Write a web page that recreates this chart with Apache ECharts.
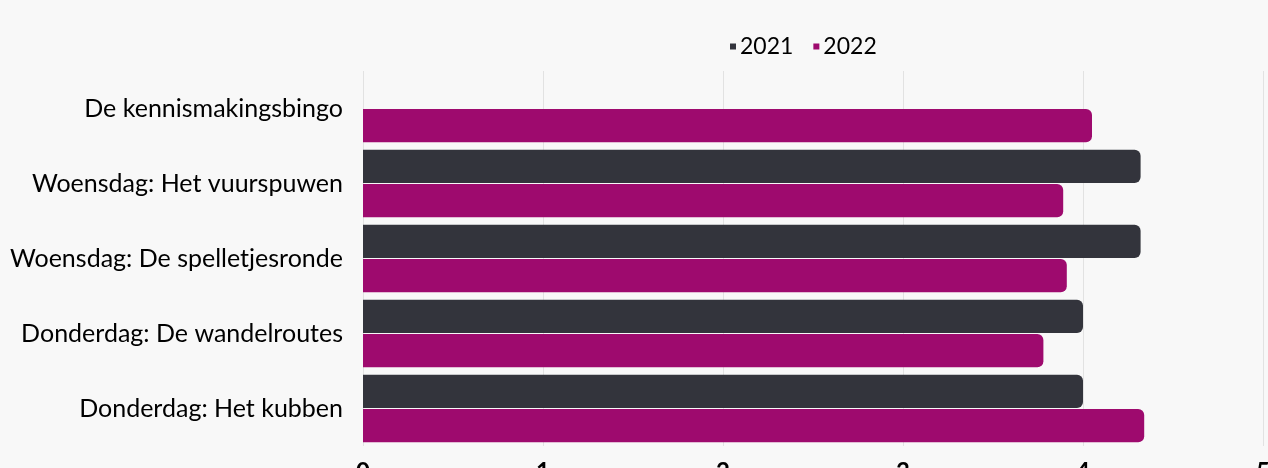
<!DOCTYPE html>
<html>
<head>
<meta charset="utf-8">
<style>
html,body{margin:0;padding:0;background:#f8f8f8;}
#c{width:1268px;height:468px;}
</style>
<script src="https://cdn.jsdelivr.net/npm/echarts@6/dist/echarts.min.js"></script>
</head>
<body>
<div id="c"></div>
<script>
const categories = ["De kennismakingsbingo","Woensdag: Het vuurspuwen","Woensdag: De spelletjesronde","Donderdag: De wandelroutes","Donderdag: Het kubben"];
const values2021 = [null, 4.32, 4.32, 4.0, 4.0];
const values2022 = [4.05, 3.89, 3.91, 3.78, 4.34];
const xTicks = [0, 1, 2, 3, 4, 5];

const FONT = "Lato";
const chart = echarts.init(document.getElementById('c'));
chart.setOption({
  backgroundColor: '#f8f8f8',
  textStyle: {fontFamily: FONT},
  animation: false,
  legend: {
    data: ['2021','2022'],
    top: 30,
    left: 725,
    itemWidth: 6, itemHeight: 6, itemGap: 20,
    icon: 'rect',
    textStyle: {fontSize: 23, color: '#000', fontFamily: FONT, padding: [0,0,0,-1]}
  },
  grid: {left: 363, right: 5, top: 71, bottom: 22, containLabel: false, outerBoundsMode: 'none'},
  xAxis: {
    type: 'value', min: 0, max: 5, interval: 1,
    axisLine: {show: false}, axisTick: {show: false},
    splitLine: {show: true, lineStyle: {color: '#e2e2e2', width: 1}},
    axisLabel: {fontSize: 24, fontWeight: 'bold', color: '#000', margin: 14,
      formatter: v => xTicks.includes(v) ? String(v) : ''}
  },
  yAxis: {
    type: 'category', data: categories, inverse: true,
    axisLine: {show: false}, axisTick: {show: false},
    axisLabel: {fontSize: 25, color: '#000', margin: 20}
  },
  series: [
    {name: '2021', type: 'bar', data: values2021, barGap: '3%', barCategoryGap: '10%',
     itemStyle: {color: '#33343c', borderRadius: [0,6,6,0]}},
    {name: '2022', type: 'bar', data: values2022, barGap: '3%', barCategoryGap: '10%',
     itemStyle: {color: '#9e0a6e', borderRadius: [0,6,6,0]}}
  ]
});
</script>
</body>
</html>
